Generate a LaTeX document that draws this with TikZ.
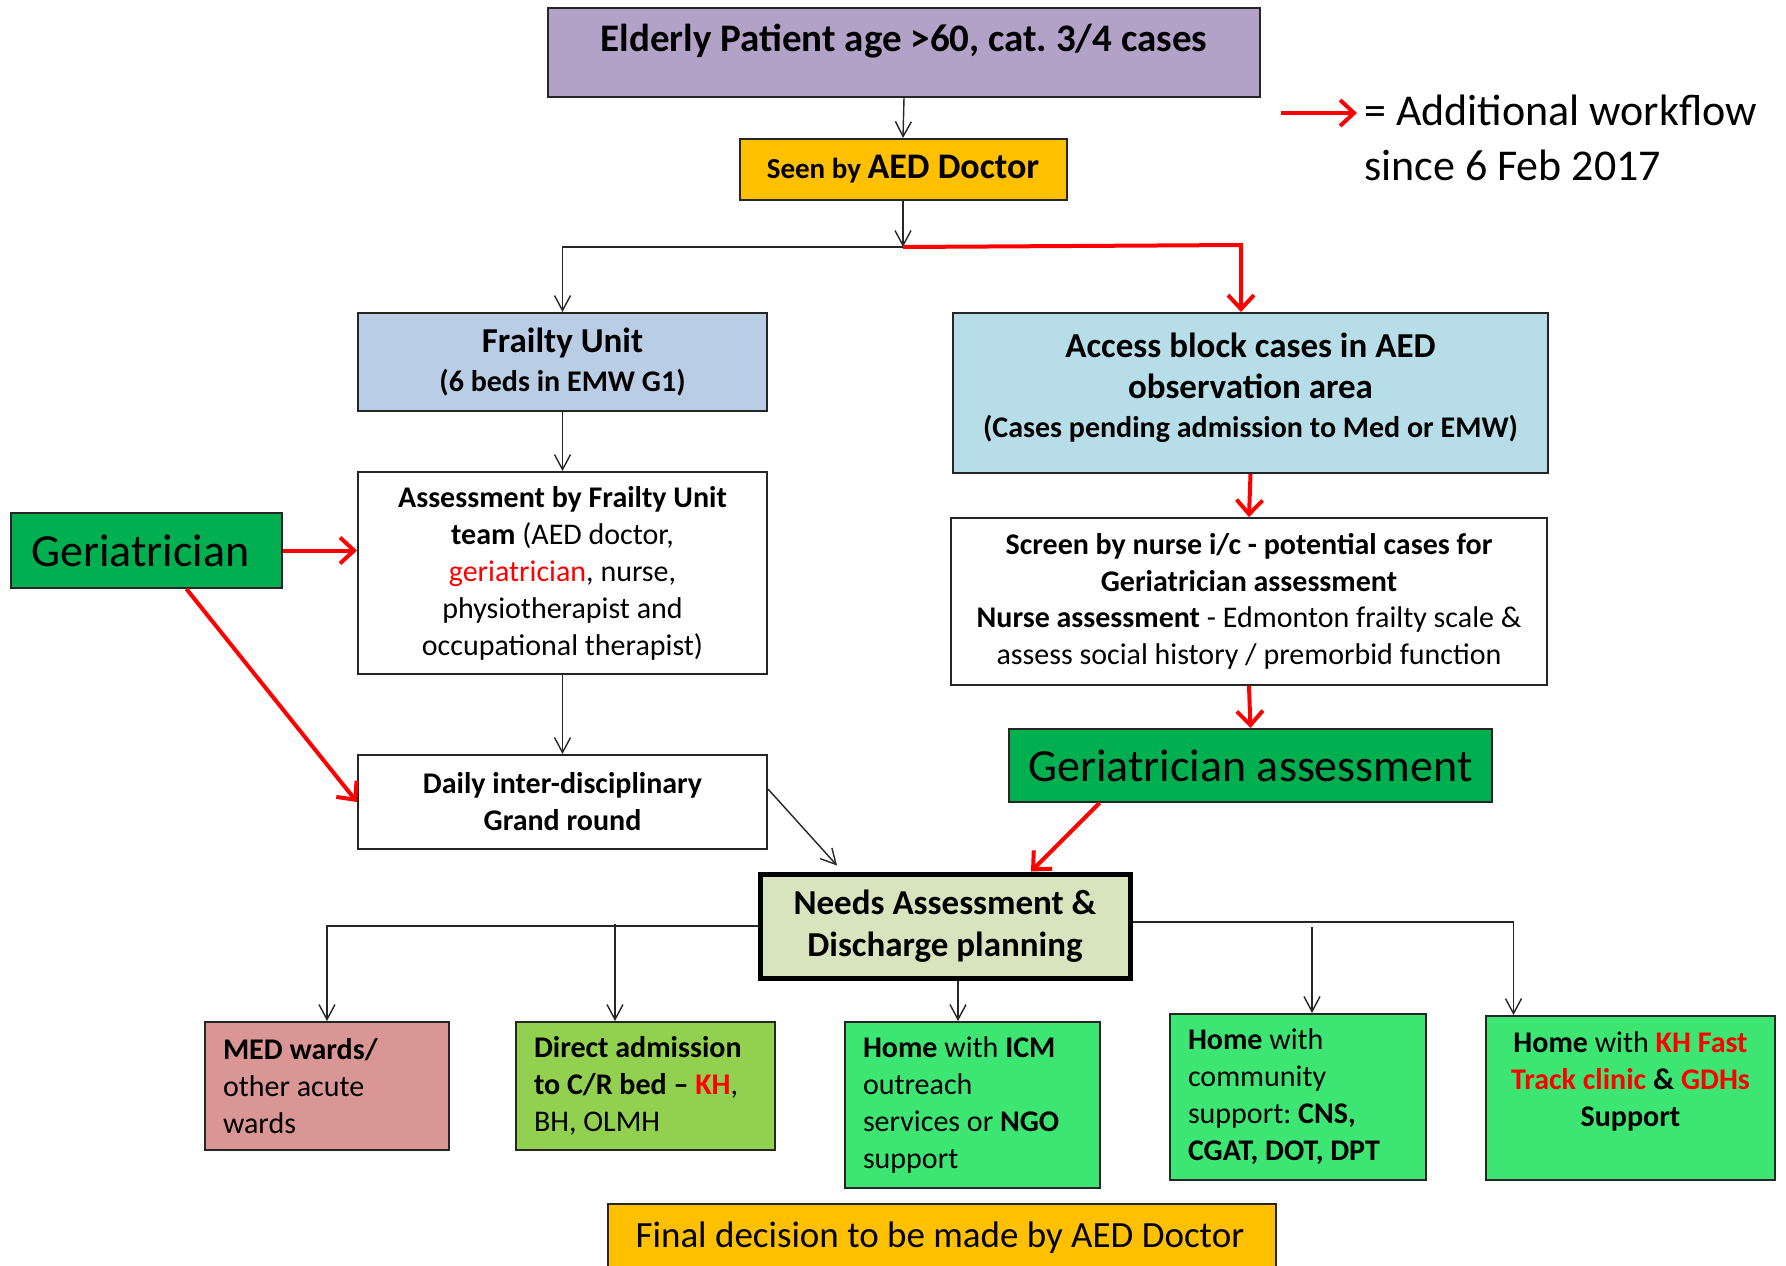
\documentclass[tikz,border=0pt]{standalone}
\usepackage{fontspec}
\setmainfont{Carlito}
\usetikzlibrary{arrows.meta,calc}
\frenchspacing
\newcommand\myfs[2]{\fontsize{#1}{#2}\selectfont\frenchspacing}
\definecolor{cpurple}{HTML}{B3A2C7}
\definecolor{corange}{HTML}{FFC000}
\definecolor{cfrail}{HTML}{B9CDE5}
\definecolor{caccess}{HTML}{B7DEE8}
\definecolor{cgreen}{HTML}{00B050}
\definecolor{cneeds}{HTML}{D7E4BD}
\definecolor{cmed}{HTML}{D99694}
\definecolor{cdirect}{HTML}{92D050}
\definecolor{cbright}{HTML}{3DE673}
\definecolor{cline}{HTML}{262626}
\definecolor{cred}{HTML}{FF0000}
\begin{document}
\begin{tikzpicture}[x=1pt,y=-1pt,
  box/.style={draw=cline, line width=2pt, rectangle, inner sep=0pt, align=center},
  lbox/.style={draw=cline, line width=2pt, rectangle, inner ysep=0pt, inner xsep=18pt, align=flush left},
  arr/.style={draw=cline, line width=1.4pt, -{Straight Barb[length=15pt,width=16pt,line width=1.4pt]}},
  redarr/.style={draw=cred, line width=4pt, -{Straight Barb[length=14pt,width=26pt,line width=4pt]}},
]
\useasboundingbox[fill=white] (0,0) rectangle (1786,1266);

% top
\node[box, fill=cpurple, minimum width=712pt, minimum height=89pt] (elderly) at (904,52.5) {};
\node[font=\myfs{39}{48}\bfseries] (elderlytext) at ($(elderly.center)+(0,-11)$) {Elderly Patient age >60, cat. 3/4 cases};
\node[box, fill=corange, minimum width=327pt, minimum height=61pt] (seen) at (903,169.5)
  {{\myfs{29}{34}\bfseries Seen by }{\myfs{36}{40}\bfseries AED Doctor}};
\coordinate (j1) at (903,247);

\node[box, fill=cfrail, minimum width=409pt, minimum height=98pt, font=\myfs{35}{39}\bfseries] (frailty) at (562.5,362)
  {Frailty Unit\\ {\myfs{30}{37}\bfseries (6 beds in EMW G1)}};
\node[box, fill=caccess, minimum width=595pt, minimum height=160pt, font=\myfs{35}{41}\bfseries] (access) at (1250.5,393)
  {Access block cases in AED\\ observation area\\[-2pt] {\myfs{30}{37}\bfseries (Cases pending admission to Med or EMW)}\\[-26pt]\mbox{}};

\node[box, fill=white, minimum width=409pt, minimum height=202pt, font=\myfs{30}{37}] (assess) at (562.5,573)
  {\textbf{Assessment by Frailty Unit}\\ \textbf{team} (AED doctor,\\ \textcolor{cred}{geriatrician}, nurse,\\ physiotherapist and\\ occupational therapist)};
\node[box, fill=cgreen, minimum width=271pt, minimum height=75pt, font=\myfs{46}{52}] (geri) at (146.5,550.5) {Geriatrician\hspace{12pt}};
\node[box, fill=white, minimum width=409pt, minimum height=94pt, font=\myfs{30}{37}\bfseries] (daily) at (562.5,802)
  {Daily inter-disciplinary\\ Grand round};

\node[box, fill=white, minimum width=596pt, minimum height=167pt, font=\myfs{30}{36.5}] (screen) at (1249,601.5)
  {\textbf{Screen by nurse i/c - potential cases for}\\ \textbf{Geriatrician assessment}\\ \textbf{Nurse assessment} - Edmonton frailty scale \&\\ assess social history / premorbid function};
\node[box, fill=cgreen, minimum width=483pt, minimum height=73pt, font=\myfs{46}{52}] (gerA) at (1250.5,765.5) {Geriatrician assessment};

\node[box, draw=black, line width=5pt, fill=cneeds, minimum width=370pt, minimum height=104pt, font=\myfs{35}{42}\bfseries] (needs) at (945,926)
  {Needs Assessment \&\\ Discharge planning};

% bottom row
\node[lbox, fill=cmed, text width=208pt, minimum height=128pt, font=\myfs{30}{37}] (med) at (327,1086)
  {\textbf{MED wards/}\\ other acute\\ wards};
\node[lbox, fill=cdirect, text width=223pt, minimum height=128pt, font=\myfs{30}{37}] (direct) at (645.5,1086)
  {\textbf{Direct admission}\\ \textbf{to C/R bed -- \textcolor{cred}{KH}},\\ BH, OLMH};
\node[lbox, fill=cbright, text width=219pt, minimum height=166pt, font=\myfs{30}{37}] (icm) at (972.5,1105)
  {\textbf{Home} with \textbf{ICM}\\ outreach\\ services or \textbf{NGO}\\ support};
\node[lbox, fill=cbright, text width=220pt, minimum height=166pt, font=\myfs{30}{37}] (comm) at (1298,1097)
  {\textbf{Home} with\\ community\\ support: \textbf{CNS,}\\ \textbf{CGAT, DOT, DPT}};
\node[box, fill=cbright, minimum width=289pt, minimum height=164pt, font=\myfs{30}{37}] (kh) at (1630.5,1098)
  {\textbf{Home} with \textcolor{cred}{\textbf{KH Fast}}\\ \textcolor{cred}{\textbf{Track clinic}} \textbf{\&} \textcolor{cred}{\textbf{GDHs}}\\ \textbf{Support}\\ \mbox{}};

\node[box, fill=corange, minimum width=668pt, minimum height=80pt] (final) at (942,1244) {};
\node[font=\myfs{37}{44}] (finaltext) at (940,1238) {Final decision to be made by AED Doctor};

% legend
\coordinate (lg1) at (1281,113);
\coordinate (lg2) at (1357,113);
\draw[redarr] (lg1) -- (lg2);
\node[anchor=west, align=left, font=\myfs{44}{55}, inner sep=0pt] (legend) at (1364,138) {= Additional workflow\\ since 6 Feb 2017};

% black connectors
\draw[arr] (elderly.south) -- (seen.north);
\draw[arr] (seen.south) -- (j1);
\draw[arr] (j1) -| (frailty.north);
\draw[arr] (frailty.south) -- (assess.north);
\draw[arr] (assess.south) -- (daily.north);
\draw[arr] ([yshift=13pt]daily.east) -- ([xshift=-108pt,yshift=6pt]needs.north);

\coordinate (bl) at (615,924);
\draw[arr] (needs.west) -| (med.north);
\draw[arr] (bl) -- (bl |- direct.north);
\draw[arr] ([xshift=13pt]needs.south) -- ([xshift=13pt]needs.south |- icm.north);
\coordinate (br) at (1312,927);
\draw[arr] ([yshift=4pt]needs.east) -| ([xshift=-117pt]kh.north);
\draw[arr] (br) -- (br |- comm.north);

% red connectors
\draw[redarr] (j1) -- (1241,245) -- ([xshift=-9.5pt]access.north);
\draw[redarr] (geri.east) -- (assess.west |- geri.east);
\draw[redarr] ([xshift=40pt]geri.south) -- (daily.west);
\draw[redarr] (access.south) -- (screen.north);
\draw[redarr] (screen.south) -- (gerA.north);
\draw[redarr] ([xshift=-151pt]gerA.south) -- ([xshift=86pt]needs.north);
\end{tikzpicture}
\end{document}
